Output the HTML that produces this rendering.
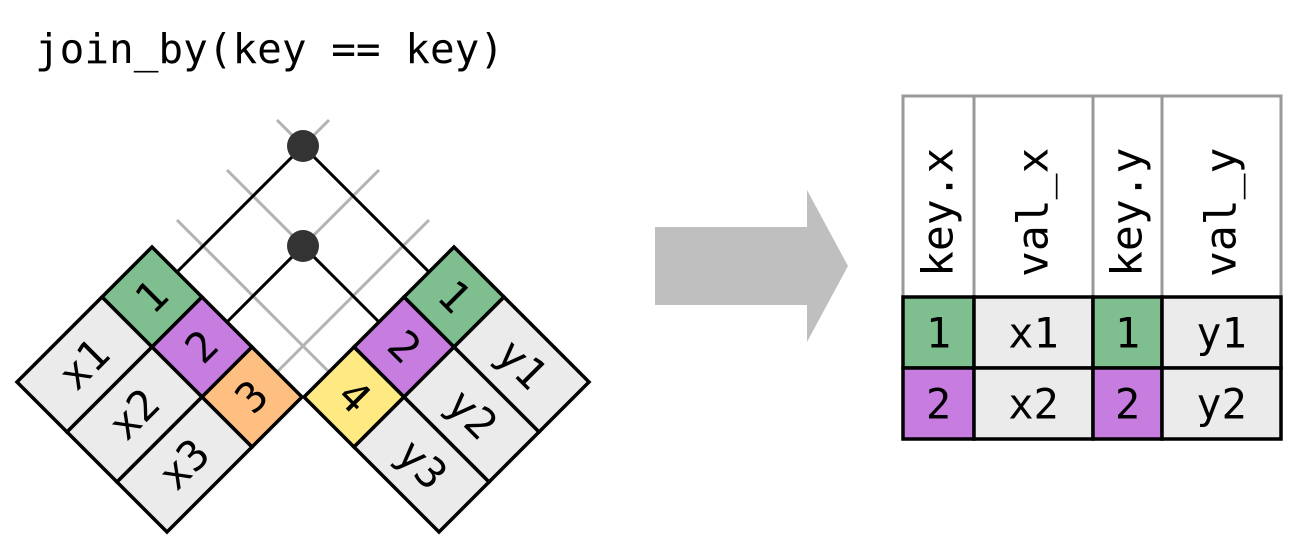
<!DOCTYPE html>
<html><head><meta charset="utf-8"><style>
html,body{margin:0;padding:0;background:#fff;width:1295px;height:545px;overflow:hidden}
text{font-family:"DejaVu Sans Mono","Liberation Mono",monospace;}
</style></head><body>
<svg width="1295" height="545" viewBox="0 0 1295 545">
<text x="35" y="63" font-size="41" fill="#000">join_by(key == key)</text>
<g id="lines"></g>
<g id="tables"></g>
<g>
<path d="M655,227 L807,227 L807,190 L848,266 L807,342 L807,305 L655,305 Z" fill="#bfbfbf"/>
</g>
<g id="result"></g>
</svg>
<script>
const NS='http://www.w3.org/2000/svg';
const leftKeys=['1','2','3'], leftVals=['x1','x2','x3'];
const rightKeys=['1','2','4'], rightVals=['y1','y2','y3'];
const keyColors={'1':'#7fbf8f','2':'#c77ce0','3':'#ffbf80','4':'#ffe982'};
const headers=['key.x','val_x','key.y','val_y'];
const resultRows=[['1','x1','1','y1'],['2','x2','2','y2']];
function mk(tag,attrs,parent){const e=document.createElementNS(NS,tag);for(const k in attrs)e.setAttribute(k,attrs[k]);parent.appendChild(e);return e;}
const tables=document.getElementById('tables'), lines=document.getElementById('lines');
const S=50, V=85;
function poly(p,fill,parent){return mk('polygon',{points:p.map(q=>q.join(',')).join(' '),fill:fill,stroke:'#000','stroke-width':3.5,'stroke-linejoin':'miter'},parent);}
function drawTable(T,dir,keys,vals,side){
  const r=[dir*S,S], kc=[-dir*S,S], vc=[-dir*V,V];
  keys.forEach((k,i)=>{
    const a=[T[0]+r[0]*i,T[1]+r[1]*i];
    const p=[a,[a[0]+r[0],a[1]+r[1]],[a[0]+r[0]+kc[0],a[1]+r[1]+kc[1]],[a[0]+kc[0],a[1]+kc[1]]];
    const el=poly(p,keyColors[k],tables);
    
    
    const cx=(p[0][0]+p[2][0])/2, cy=(p[0][1]+p[2][1])/2;
    const t=mk('text',{x:cx,y:cy+14,'font-size':42,'text-anchor':'middle',transform:`rotate(${-dir*45} ${cx} ${cy})`},tables);
    t.textContent=k;
    
    
    const b=[a[0]+kc[0],a[1]+kc[1]];
    const q=[b,[b[0]+r[0],b[1]+r[1]],[b[0]+r[0]+vc[0],b[1]+r[1]+vc[1]],[b[0]+vc[0],b[1]+vc[1]]];
    const ev=poly(q,'#ebebeb',tables);
    
    
    const vx=(q[0][0]+q[2][0])/2, vy=(q[0][1]+q[2][1])/2;
    const tv=mk('text',{x:vx,y:vy+14,'font-size':42,'text-anchor':'middle',transform:`rotate(${-dir*45} ${vx} ${vy})`},tables);
    tv.textContent=vals[i];
    
    
    const m=[a[0]+r[0]/2,a[1]+r[1]/2];
    const g=mk('line',{x1:m[0],y1:m[1],x2:m[0]+dir*152,y2:m[1]-152,stroke:'#b3b3b3','stroke-width':3},lines);
    
    
  });
}
const LT=[152,247], RT=[454,247];
drawTable(LT,1,leftKeys,leftVals,'left');
drawTable(RT,-1,rightKeys,rightVals,'right');
leftKeys.forEach((k,i)=>{
  const j=rightKeys.indexOf(k);
  if(j<0)return;
  const ml=[LT[0]+S*i+S/2,LT[1]+S*i+S/2], mr=[RT[0]-S*j-S/2,RT[1]+S*j+S/2];
  const dx=(mr[0]-ml[0])/2, px=ml[0]+dx, py=ml[1]-dx;
  const l1=mk('line',{x1:ml[0],y1:ml[1],x2:px,y2:py,stroke:'#000','stroke-width':3},lines);
  
  
  const l2=mk('line',{x1:mr[0],y1:mr[1],x2:px,y2:py,stroke:'#000','stroke-width':3},lines);
  
  
  const c=mk('circle',{cx:px,cy:py,r:16,fill:'#333'},lines);
  
  
});
const res=document.getElementById('result');
const colX=[903,974,1093,1162,1281], hTop=96, hBot=297, rowH=71;
headers.forEach((h,i)=>{
  const r=mk('rect',{x:colX[i],y:hTop,width:colX[i+1]-colX[i],height:hBot-hTop,fill:'#fff',stroke:'#999','stroke-width':3},res);
  
  
  const cx=(colX[i]+colX[i+1])/2+14, cy=277;
  const t=mk('text',{x:cx,y:cy,'font-size':43,transform:`rotate(-90 ${cx} ${cy})`},res);
  t.textContent=h;
  
  
});
resultRows.forEach((row,ri)=>{
  row.forEach((v,ci)=>{
    const fill=(ci%2===0)?keyColors[v]:'#ebebeb';
    const r=mk('rect',{x:colX[ci],y:hBot+ri*rowH,width:colX[ci+1]-colX[ci],height:rowH,fill:fill,stroke:'#000','stroke-width':3.5},res);
    
    
    const t=mk('text',{x:(colX[ci]+colX[ci+1])/2,y:hBot+ri*rowH+rowH/2+15,'font-size':42,'text-anchor':'middle'},res);
    t.textContent=v;
    
    
  });
});
</script>
</body></html>
